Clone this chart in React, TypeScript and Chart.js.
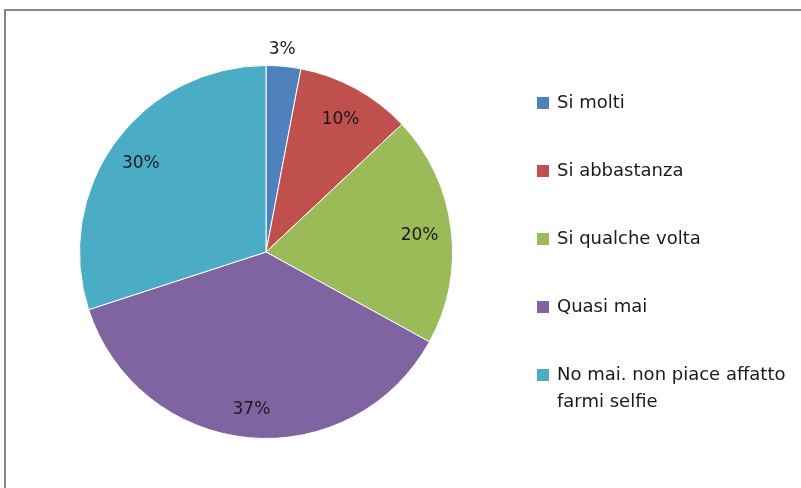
import React, { useEffect, useRef } from "react";
import { Chart, registerables } from "chart.js";

Chart.register(...registerables);

const categories = ["Si molti", "Si abbastanza", "Si qualche volta", "Quasi mai", "No mai. non piace affatto farmi selfie"];
const legendLines = [["Si molti"], ["Si abbastanza"], ["Si qualche volta"], ["Quasi mai"], ["No mai. non piace affatto", "farmi selfie"]];
const values = [3, 10, 20, 37, 30];
const colors = ["#4F81BD", "#C0504D", "#9BBB59", "#8064A2", "#4BACC6"];

const FONT = "'DejaVu Sans', sans-serif";

const framePlugin = {
  id: "frame",
  beforeDraw(chart: any) {
    const ctx = chart.ctx;
    ctx.save();
    ctx.fillStyle = "#ffffff";
    ctx.fillRect(0, 0, chart.width, chart.height);
    ctx.strokeStyle = "#868686";
    ctx.lineWidth = 2;
    ctx.beginPath();
    ctx.moveTo(5, chart.height + 2);
    ctx.lineTo(5, 10);
    ctx.lineTo(chart.width + 2, 10);
    ctx.stroke();
    ctx.restore();
  },
};

const labelPlugin = {
  id: "sliceLabels",
  afterDatasetsDraw(chart: any) {
    const ctx = chart.ctx;
    const meta = chart.getDatasetMeta(0);
    const data = chart.data.datasets[0].data as number[];
    const total = data.reduce((a: number, b: number) => a + b, 0);
    ctx.save();
    ctx.font = `17px ${FONT}`;
    ctx.fillStyle = "#1a1a1a";
    ctx.textAlign = "center";
    ctx.textBaseline = "middle";
    meta.data.forEach((arc: any, i: number) => {
      const mid = (arc.startAngle + arc.endAngle) / 2;
      const pct = data[i] / total;
      const outside = pct < 0.05;
      const r = outside ? arc.outerRadius + 17 : arc.outerRadius * 0.83;
      const x = arc.x + Math.cos(mid) * r - (outside ? 3 : 0);
      const y = arc.y + Math.sin(mid) * r + (outside ? 0 : 3);
      ctx.fillText(Math.round(pct * 100) + "%", x, y);
    });
    ctx.restore();
  },
};

const legendPlugin = {
  id: "customLegend",
  afterDraw(chart: any) {
    const ctx = chart.ctx;
    ctx.save();
    ctx.font = `18px ${FONT}`;
    ctx.textBaseline = "middle";
    ctx.textAlign = "left";
    const x0 = 537;
    const y0 = 103;
    const step = 68;
    legendLines.forEach((lines, i) => {
      const y = y0 + i * step;
      ctx.fillStyle = colors[i];
      ctx.fillRect(x0, y - 6, 12, 12);
      ctx.fillStyle = "#1a1a1a";
      lines.forEach((t, j) => {
        ctx.fillText(t, x0 + 20, y + j * 27);
      });
    });
    ctx.restore();
  },
};

export default function App() {
  const ref = useRef<HTMLCanvasElement>(null);
  useEffect(() => {
    const chart = new Chart(ref.current!, {
      type: "pie",
      data: {
        labels: categories,
        datasets: [
          {
            data: values,
            backgroundColor: colors,
            borderColor: "#ffffff",
            borderWidth: 1,
          },
        ],
      },
      options: {
        animation: false,
        responsive: false,
        maintainAspectRatio: false,
        layout: { padding: { left: 79, right: 348, top: 65, bottom: 49 } },
        plugins: {
          legend: { display: false },
          tooltip: { enabled: false },
        },
      },
      plugins: [framePlugin, labelPlugin, legendPlugin],
    });
    return () => chart.destroy();
  }, []);
  return (
    <div style={{ position: "absolute", left: 0, top: 0, width: 801, height: 488 }}>
      <canvas ref={ref} width={801} height={488} style={{ width: 801, height: 488, display: "block" }} />
    </div>
  );
}
